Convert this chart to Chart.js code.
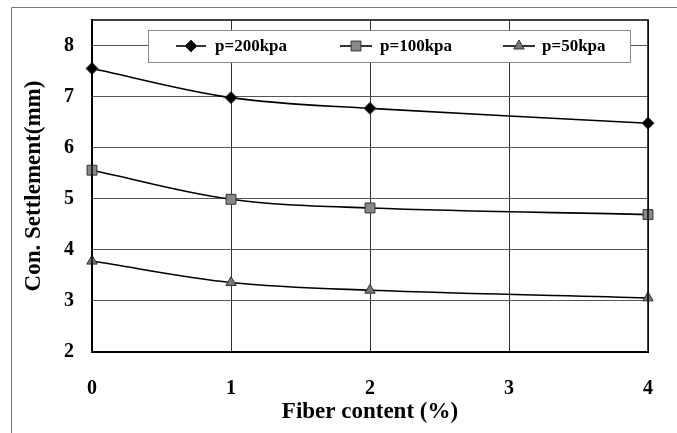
<!DOCTYPE html>
<html>
<head>
<meta charset="utf-8">
<script src="https://cdn.jsdelivr.net/npm/chart.js@4.4.1/dist/chart.umd.min.js"></script>
<style>
  html, body { margin: 0; padding: 0; background: #fff; }
  #wrap { width: 677px; height: 433px; position: relative; }
</style>
</head>
<body>
<div id="wrap"><canvas id="grafico" width="677" height="433"></canvas></div>
<script>
// datos
const fibra = [0, 1, 2, 4];
const p200 = [7.55, 6.98, 6.77, 6.48];
const p100 = [5.56, 4.99, 4.82, 4.69];
const p50 = [3.78, 3.36, 3.21, 3.06];
const etiquetas = ["p=200kpa", "p=100kpa", "p=50kpa"];
const ticksX = [0, 1, 2, 3, 4];
const ticksY = [2, 3, 4, 5, 6, 7, 8];

const serif = "'Liberation Serif', 'Times New Roman', serif";

function puntos(valores) {
  return fibra.map((x, i) => ({ x: x, y: valores[i] }));
}

function serie(label, valores, estilo, radio, relleno) {
  return {
    label: label,
    data: puntos(valores),
    borderColor: "#000",
    borderWidth: 1.6,
    tension: 0.35,
    pointStyle: estilo,
    pointRadius: radio,
    pointHoverRadius: radio,
    pointBackgroundColor: relleno,
    pointBorderColor: "#333",
    pointBorderWidth: 1,
    fill: false,
    clip: false
  };
}

// marco exterior y borde del area
const marco = {
  id: "marco",
  beforeDraw(chart) {
    const ctx = chart.ctx;
    ctx.save();
    ctx.strokeStyle = "#777";
    ctx.lineWidth = 1;
    ctx.beginPath();
    ctx.moveTo(11.5, 433);
    ctx.lineTo(11.5, 7.5);
    ctx.lineTo(677, 7.5);
    ctx.stroke();
    ctx.restore();
  },
  afterDatasetsDraw(chart) {
    const { ctx, chartArea: a } = chart;
    ctx.save();
    ctx.strokeStyle = "#000";
    ctx.lineWidth = 1.5;
    ctx.strokeRect(a.left, a.top, a.right - a.left, a.bottom - a.top);
    ctx.restore();
  }
};

// leyenda dentro del area
const leyenda = {
  id: "leyenda",
  afterDraw(chart) {
    const ctx = chart.ctx;
    ctx.save();
    ctx.fillStyle = "#fff";
    ctx.fillRect(148, 30, 482, 32);
    ctx.strokeStyle = "#888";
    ctx.lineWidth = 1;
    ctx.strokeRect(148.5, 30.5, 482, 32);
    const lineas = [[176, 206, 215], [340, 372, 380], [503, 535, 542]];
    const yc = 46;
    chart.data.datasets.forEach((ds, i) => {
      const [x1, x2, xt] = lineas[i];
      ctx.strokeStyle = "#000";
      ctx.lineWidth = 1.6;
      ctx.beginPath();
      ctx.moveTo(x1, yc);
      ctx.lineTo(x2, yc);
      ctx.stroke();
      ctx.fillStyle = ds.pointBackgroundColor;
      ctx.strokeStyle = ds.pointBorderColor;
      ctx.lineWidth = 1;
      Chart.helpers.drawPoint(ctx, {
        pointStyle: ds.pointStyle,
        radius: ds.pointRadius,
        rotation: 0,
        borderWidth: 1
      }, (x1 + x2) / 2, yc);
      ctx.fillStyle = "#000";
      ctx.font = "bold 17px " + serif;
      ctx.textBaseline = "middle";
      ctx.textAlign = "left";
      ctx.fillText(ds.label, xt, yc + 1);
    });
    ctx.restore();
  }
};

const ctx = document.getElementById("grafico").getContext("2d");
new Chart(ctx, {
  type: "line",
  data: {
    datasets: [
      serie(etiquetas[0], p200, "rectRot", 6, "#000"),
      serie(etiquetas[1], p100, "rect", 7, "#888"),
      serie(etiquetas[2], p50, "triangle", 6, "#777")
    ]
  },
  options: {
    responsive: false,
    animation: false,
    events: [],
    layout: { padding: { left: 0, top: 20, right: 29, bottom: 0 } },
    plugins: {
      legend: { display: false },
      tooltip: { enabled: false }
    },
    scales: {
      x: {
        type: "linear",
        min: 0,
        max: 4,
        afterBuildTicks: s => { s.ticks = ticksX.map(v => ({ value: v })); },
        afterFit: s => { s.height = 81; s.paddingLeft = 0; s.paddingRight = 0; },
        grid: { color: "#333", lineWidth: 1, drawTicks: false },
        border: { color: "#000", width: 2 },
        ticks: {
          color: "#000",
          padding: 25,
          font: { family: serif, size: 20, weight: "bold" }
        },
        title: {
          display: true,
          text: "Fiber content (%)",
          color: "#000",
          padding: { top: 0, bottom: 7 },
          font: { family: serif, size: 23, weight: "bold" }
        }
      },
      y: {
        min: 2,
        max: 8.5,
        afterBuildTicks: s => { s.ticks = ticksY.map(v => ({ value: v })); },
        afterFit: s => { s.width = 92; s.paddingTop = 0; s.paddingBottom = 0; },
        grid: { color: "#555", lineWidth: 1, drawTicks: false },
        border: { color: "#000", width: 2 },
        ticks: {
          color: "#000",
          padding: 18,
          font: { family: serif, size: 20, weight: "bold" }
        },
        title: {
          display: true,
          text: "Con. Settlement(mm)",
          color: "#000",
          padding: { top: 20, bottom: 0 },
          font: { family: serif, size: 23, weight: "bold" }
        }
      }
    }
  },
  plugins: [marco, leyenda]
});
</script>
</body>
</html>
